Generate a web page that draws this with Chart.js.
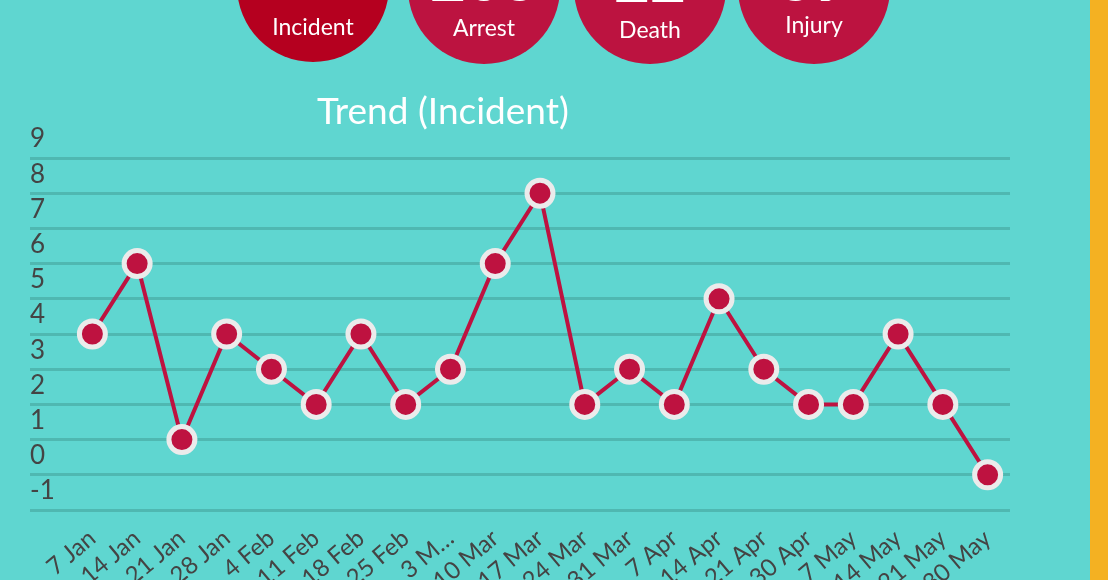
<!DOCTYPE html>
<html>
<head>
<meta charset="utf-8">
<script src="https://cdn.jsdelivr.net/npm/chart.js@4.4.0/dist/chart.umd.min.js"></script>
<style>
  html, body { margin: 0; padding: 0; }
  body { width: 1108px; height: 580px; overflow: hidden; background: #5fd6d0; position: relative; font-family: Lato, "Noto Sans", sans-serif; }
  #side { position: absolute; left: 1090px; top: 0; width: 18px; height: 580px; background: #f4b122; }
  #wrap { position: absolute; left: 0; top: 0; width: 1090px; height: 660px; }
  .stat { position: absolute; width: 152px; height: 152px; border-radius: 50%; background: #bc1340; color: #fff; text-align: center; }
  .stat .num { position: absolute; left: 0; right: 0; font-size: 62px; font-weight: 700; line-height: 1; }
  .stat .lbl { position: absolute; left: 0; right: 0; font-size: 23px; line-height: 1; }
  #title { position: absolute; left: 243px; width: 400px; top: 91px; text-align: center; color: #fff; font-size: 37px; line-height: 1; }
</style>
</head>
<body>
<div id="wrap"><canvas id="trendChart"></canvas></div>
<div id="side"></div>
<div id="stats"></div>
<div id="title">Trend (Incident)</div>
<script>
const weeks = ['7 Jan', '14 Jan', '21 Jan', '28 Jan', '4 Feb', '11 Feb', '18 Feb', '25 Feb', '3 M…', '10 Mar',
  '17 Mar', '24 Mar', '31 Mar', '7 Apr', '14 Apr', '21 Apr', '30 Apr', '7 May', '14 May', '21 May', '30 May'];
const incidents = [4, 6, 1, 4, 3, 2, 4, 2, 3, 6, 8, 2, 3, 2, 5, 3, 2, 2, 4, 2, 0];
const statNames = ['Incident', 'Arrest', 'Death', 'Injury'];
const statValues = [68, 203, 22, 39];

// summary circles across the top (mostly cut off by the page edge)
const statPos = [
  { left: 237, top: -90, lbl: 105, num: -40, bg: '#b5001f' },
  { left: 408, top: -88, lbl: 104, num: 34 },
  { left: 574, top: -88, lbl: 106, num: 35 },
  { left: 738, top: -88, lbl: 101, num: 34 }
];
const stats = document.getElementById('stats');
statNames.forEach((name, i) => {
  const p = statPos[i];
  const d = document.createElement('div');
  d.className = 'stat';
  d.style.left = p.left + 'px';
  d.style.top = p.top + 'px';
  if (p.bg) d.style.background = p.bg;
  d.innerHTML = '<div class="num" style="top:' + p.num + 'px">' + statValues[i] + '</div>' +
    '<div class="lbl" style="top:' + p.lbl + 'px">' + name + '</div>';
  stats.appendChild(d);
});

const gridColor = '#4fb8b1';
const tickColor = '#444';

new Chart(document.getElementById('trendChart'), {
  type: 'line',
  data: {
    labels: weeks,
    datasets: [{
      label: 'Incident',
      data: incidents,
      borderColor: '#be1240',
      borderWidth: 4,
      pointRadius: 13,
      pointHoverRadius: 13,
      pointBorderWidth: 5,
      pointBackgroundColor: '#be1240',
      pointBorderColor: '#ebebeb',
      tension: 0
    }]
  },
  options: {
    responsive: true,
    maintainAspectRatio: false,
    animation: false,
    layout: { padding: { left: 30, right: 80, top: 158, bottom: 0 } },
    plugins: { legend: { display: false }, tooltip: { enabled: false } },
    scales: {
      x: {
        offset: true,
        grid: { display: false },
        border: { display: false },
        ticks: {
          color: tickColor,
          font: { family: 'Lato', size: 24 },
          maxRotation: 40,
          minRotation: 40,
          autoSkip: false,
          padding: 6
        },
        afterFit: s => { s.height = 150; }
      },
      y: {
        min: -1,
        max: 9,
        border: { display: false },
        grid: { color: gridColor, lineWidth: 3, tickLength: 40, tickColor: gridColor },
        ticks: {
          stepSize: 1,
          color: tickColor,
          font: { family: 'Lato', size: 26 },
          crossAlign: 'far',
          padding: 0,
          labelOffset: -19
        },
        afterFit: s => { s.width = 40; }
      }
    }
  }
});
</script>
</body>
</html>
